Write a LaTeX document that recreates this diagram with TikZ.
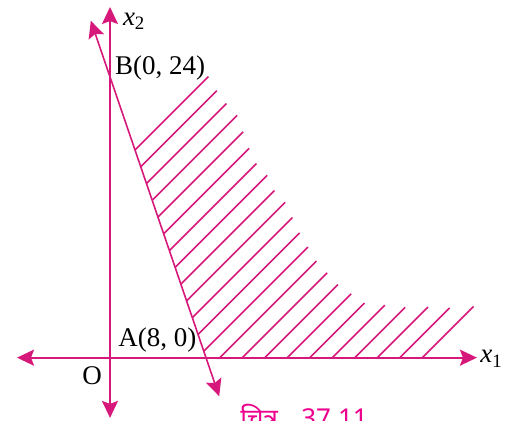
\documentclass[tikz,border=0pt]{standalone}
\usepackage{fontspec}
\setmainfont{Liberation Serif}
\newfontfamily\hindifont[Script=Devanagari]{Noto Sans}
\usetikzlibrary{arrows.meta}
\definecolor{lppink}{RGB}{214,24,122}
\definecolor{figpink}{RGB}{236,0,140}

\begin{document}
\begin{tikzpicture}[x=6pt,y=5.85pt,
    every node/.style={font=\fontsize{13.5}{16}\selectfont,inner sep=0pt},
    axis/.style={lppink,line width=1pt,{Stealth[length=8.5pt,width=8pt,inset=1.5pt]}-{Stealth[length=8.5pt,width=8pt,inset=1.5pt]}},
    bound/.style={lppink,line width=0.8pt,{Stealth[length=8.5pt,width=8pt,inset=1.5pt]}-{Stealth[length=8.5pt,width=8pt,inset=1.5pt]}},
    hatch/.style={lppink,line width=0.75pt}]
  \useasboundingbox (-9.167,-5.41) rectangle (33.5,30.57);
  % axes and the line 3x1 + x2 = 24
  \coordinate (O) at (0,0);
  \coordinate (xleft) at (-7.75,0);
  \coordinate (xright) at (30.58,0);
  \coordinate (ytop) at (0,29.97);
  \coordinate (ybot) at (0,-5.15);
  \coordinate (ltop) at (-1.6,28.8);
  \coordinate (lbot) at (9.1,-3.3);
  \draw[axis] (xleft) -- (xright);
  \draw[axis] (ybot) -- (ytop);
  \draw[bound] (ltop) -- (lbot);
  % hatching of the feasible region
  \foreach \t [count=\k] in {8.2,8.9,9.7,10.6,11.1,11.6,12.2,13.1,13.7,14.6,15.2,15.8,
                             16.5,17.2,18.1,19.0,20.1,21.2,22.9,24.6,26.5,28.3,30.3}{
    \pgfmathsetmacro\u{-15.22+1.875*(\k-1)}
    \pgfmathsetmacro\xl{max((24+1.0256*\u)/4.0256,\u)}
    \draw[hatch] (\xl,{1.0256*(\xl-\u)}) -- (\t,{1.0256*(\t-\u)});
  }
  % labels
  \node[anchor=base west] (Blab) at (0.4,24.2) {B(0, 24)};
  \node[anchor=base west] (Alab) at (0.67,0.94) {A(8, 0)};
  \node[anchor=base] (Olab) at (-1.5,-2.33) {O};
  \node[anchor=base west] (xtwo) at (1.05,28.4) {\textit{x}\textsubscript{2}};
  \node[anchor=base west] (xone) at (30.83,-0.45) {\textit{x}\textsubscript{1}};
  \node[anchor=base west,text=figpink,font=\hindifont\bfseries\fontsize{13}{15}\selectfont] (figcap) at (10.83,-5.95) {चित्र\hspace{0.9em}37.11};
\end{tikzpicture}
\end{document}
